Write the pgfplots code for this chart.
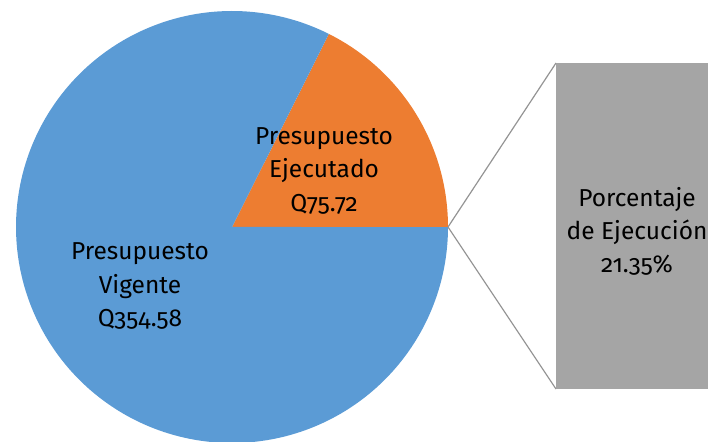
\documentclass[border=0pt]{standalone}
\usepackage{pgfplots}
\usepackage{pgfplotstable}
\pgfplotsset{compat=1.18}
\usepackage{fontspec}
\setmainfont{Fira Sans}[Numbers=OldStyle]
\definecolor{pieblue}{HTML}{5B9BD5}
\definecolor{pieorange}{HTML}{ED7D31}
\definecolor{piegray}{HTML}{A5A5A5}
\pgfplotstableread{
label value
Ejecutado 75.72
Vigente 354.58
}\datatable
\pgfplotstablegetelem{0}{value}\of\datatable\let\valA\pgfplotsretval
\pgfplotstablegetelem{1}{value}\of\datatable\let\valB\pgfplotsretval
\pgfmathsetmacro{\angA}{\valA/(\valA+\valB)*360}
\begin{document}
\begin{tikzpicture}
\begin{axis}[
  x=1pt, y=1pt, scale only axis,
  xmin=0, xmax=708, ymin=0, ymax=441,
  hide axis, clip=true,
]
% orange slice (Presupuesto Ejecutado)
\addplot[fill=pieorange, draw=none, domain=0:\angA, samples=120, variable=\t]
  ({232+216*cos(t)},{214+216*sin(t)}) -- (axis cs:232,214) -- cycle;
% blue slice (Presupuesto Vigente)
\addplot[fill=pieblue, draw=none, domain=\angA:360, samples=300, variable=\t]
  ({232+216*cos(t)},{214+216*sin(t)}) -- (axis cs:232,214) -- cycle;
% connector lines
\addplot[draw=piegray!90!black, line width=1.2pt] coordinates {(448,214) (556,378)};
\addplot[draw=piegray!90!black, line width=1.2pt] coordinates {(448,214) (556,52)};
% bar (porcentaje)
\addplot[fill=piegray, draw=none] coordinates {(556,52) (720,52) (720,378) (556,378)} -- cycle;
\node[align=center, font=\fontsize{24.5}{33.5}\selectfont] at (axis cs:324,270) {Presupuesto\\Ejecutado\\Q75.72};
\node[align=center, font=\fontsize{24.5}{33.5}\selectfont] at (axis cs:140,155) {Presupuesto\\Vigente\\Q354.58};
\node[align=center, font=\fontsize{24.5}{33}\selectfont] at (axis cs:637,210) {Porcentaje\\de Ejecución\\21.35\%};
\end{axis}
\pgfresetboundingbox
\path (current axis.south west) rectangle (current axis.north east);
\end{tikzpicture}
\end{document}
